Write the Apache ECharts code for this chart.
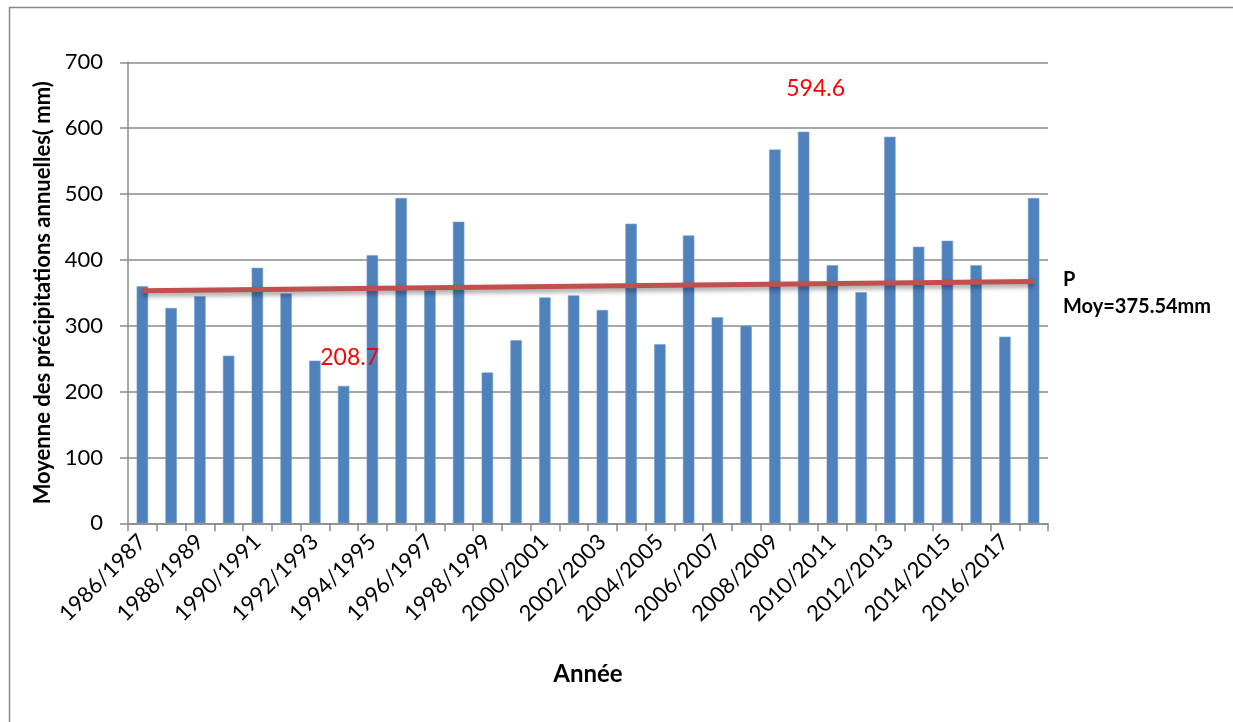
<!DOCTYPE html>
<html>
<head>
<meta charset="utf-8">
<script src="https://cdn.jsdelivr.net/npm/echarts@6/dist/echarts.min.js"></script>
<style>
  html, body { margin: 0; padding: 0; background: #fff; }
  #chart { width: 1233px; height: 722px; }
</style>
</head>
<body>
<div id="chart"></div>
<script>
// Hydrological years (one bar per year)
const years = [
  '1986/1987', '1987/1988', '1988/1989', '1989/1990', '1990/1991', '1991/1992',
  '1992/1993', '1993/1994', '1994/1995', '1995/1996', '1996/1997', '1997/1998',
  '1998/1999', '1999/2000', '2000/2001', '2001/2002', '2002/2003', '2003/2004',
  '2004/2005', '2005/2006', '2006/2007', '2007/2008', '2008/2009', '2009/2010',
  '2010/2011', '2011/2012', '2012/2013', '2013/2014', '2014/2015', '2015/2016',
  '2016/2017', '2017/2018'
];

// Annual mean precipitation (mm)
const precipitation = [
  360, 327, 345, 254.5, 388, 349,
  247, 208.7, 407, 494, 354, 458,
  229, 278, 343, 346, 324, 455,
  272, 437, 313, 300, 567.5, 594.6,
  392, 351, 587, 420, 429, 392,
  283.5, 494
];

// Y-axis ticks (mm)
const yTicks = [0, 100, 200, 300, 400, 500, 600, 700];

// Tendency line: value at the first and at the last year (mm)
const trendValues = [353, 367];

// Annotated extremes: minimum and maximum years
const minYear = '1993/1994';
const maxYear = '2009/2010';

const legendLines = ['P', 'Moy=375.54mm'];

const FONT = 'Lato, "Liberation Sans", sans-serif';

const barData = precipitation.map((v, i) => {
  const item = { value: v };
  if (years[i] === minYear) {
    item.label = { show: true, position: 'top', offset: [6, -12], formatter: '{c}' };
  } else if (years[i] === maxYear) {
    item.label = { show: true, position: 'top', offset: [12, -27], formatter: '{c}' };
  }
  return item;
});

const chart = echarts.init(document.getElementById('chart'), null, { renderer: 'canvas' });

chart.setOption({
  animation: false,
  backgroundColor: '#ffffff',
  textStyle: { fontFamily: FONT },
  grid: { left: 128, right: 185, top: 62.3, bottom: 198.7, containLabel: false },
  xAxis: {
    type: 'category',
    data: years,
    boundaryGap: true,
    name: 'Année',
    nameLocation: 'middle',
    nameGap: 139,
    nameTextStyle: { fontFamily: FONT, fontWeight: 'bold', fontSize: 24, color: '#000' },
    axisLine: { lineStyle: { color: '#8a8a8a', width: 1.5 } },
    axisTick: { show: true, interval: 0, alignWithLabel: false, length: 8, lineStyle: { color: '#8a8a8a', width: 1.5 } },
    axisLabel: {
      interval: 1,
      rotate: 45,
      margin: 15,
      fontFamily: FONT,
      fontSize: 22,
      color: '#000'
    },
    splitLine: { show: false }
  },
  yAxis: {
    type: 'value',
    min: yTicks[0],
    max: yTicks[yTicks.length - 1],
    interval: yTicks[1] - yTicks[0],
    name: 'Moyenne des précipitations annuelles( mm)',
    nameLocation: 'middle',
    nameRotate: 90,
    nameGap: 71,
    nameTextStyle: { fontFamily: FONT, fontWeight: 'bold', fontSize: 22, color: '#000' },
    axisLine: { show: true, lineStyle: { color: '#8a8a8a', width: 1.5 } },
    axisTick: { show: true, length: 8, lineStyle: { color: '#8a8a8a', width: 1.5 } },
    axisLabel: { margin: 25, fontFamily: FONT, fontSize: 22, color: '#000' },
    splitLine: { show: true, lineStyle: { color: '#8a8a8a', width: 1.5 } }
  },
  series: [
    {
      type: 'bar',
      name: 'Précipitations',
      data: barData,
      barWidth: '40%',
      itemStyle: { color: '#4F81BD', borderColor: '#7da2d0', borderWidth: 0.6 },
      label: {
        color: '#ff0000',
        fontFamily: FONT,
        fontSize: 23
      },
      markLine: {
        silent: true,
        symbol: ['none', 'none'],
        label: { show: false },
        lineStyle: {
          type: 'solid',
          color: '#C0504D',
          width: 5,
          shadowColor: 'rgba(0,0,0,0.4)',
          shadowBlur: 5,
          shadowOffsetY: 3
        },
        data: [[
          { coord: [years[0], trendValues[0]] },
          { coord: [years[years.length - 1], trendValues[1]] }
        ]]
      }
    }
  ],
  graphic: [
    {
      type: 'rect',
      left: 7,
      top: 5,
      shape: { x: 0.5, y: 0.5, width: 1300, height: 800 },
      style: { fill: null, stroke: '#888888', lineWidth: 1.5 },
      silent: true
    },
    {
      type: 'text',
      left: 1063,
      top: 266,
      style: {
        text: legendLines.join('\n'),
        font: 'bold 20px ' + FONT,
        lineHeight: 27,
        fill: '#000'
      }
    }
  ]
});
</script>
</body>
</html>
